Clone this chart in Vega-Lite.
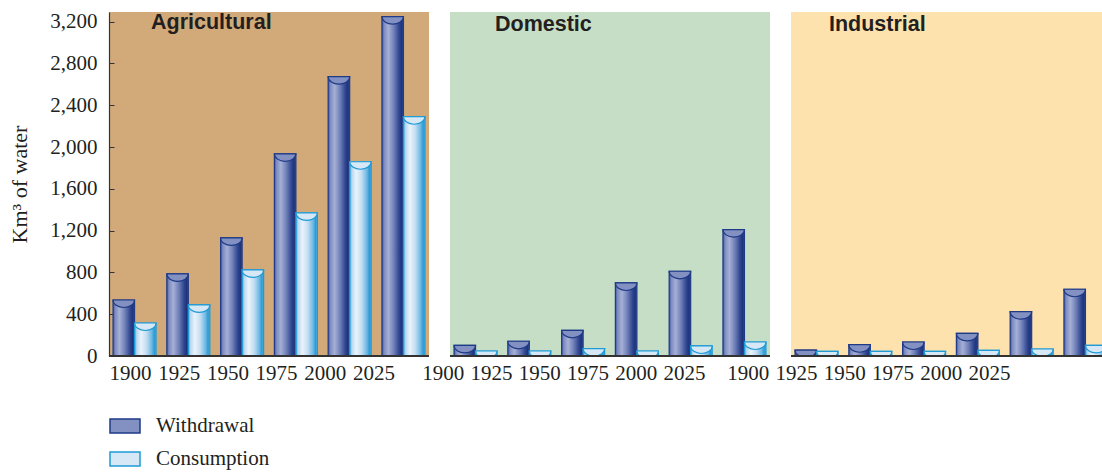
{
  "$schema": "https://vega.github.io/schema/vega-lite/v6.json",
  "background": "white",
  "padding": {"left": 8, "top": 10, "right": 0, "bottom": 0},
  "spacing": 21,
  "bounds": "flush",
  "datasets": {
    "water": [
      {"panel": "Agricultural", "year": "1900", "series": "Withdrawal", "value": 536},
      {"panel": "Agricultural", "year": "1925", "series": "Withdrawal", "value": 786},
      {"panel": "Agricultural", "year": "1950", "series": "Withdrawal", "value": 1130},
      {"panel": "Agricultural", "year": "1975", "series": "Withdrawal", "value": 1935},
      {"panel": "Agricultural", "year": "2000", "series": "Withdrawal", "value": 2673},
      {"panel": "Agricultural", "year": "2025", "series": "Withdrawal", "value": 3248},
      {"panel": "Agricultural", "year": "1900", "series": "Consumption", "value": 316},
      {"panel": "Agricultural", "year": "1925", "series": "Consumption", "value": 489},
      {"panel": "Agricultural", "year": "1950", "series": "Consumption", "value": 824},
      {"panel": "Agricultural", "year": "1975", "series": "Consumption", "value": 1370},
      {"panel": "Agricultural", "year": "2000", "series": "Consumption", "value": 1859},
      {"panel": "Agricultural", "year": "2025", "series": "Consumption", "value": 2290},
      {"panel": "Domestic", "year": "1900", "series": "Withdrawal", "value": 102},
      {"panel": "Domestic", "year": "1925", "series": "Withdrawal", "value": 141},
      {"panel": "Domestic", "year": "1950", "series": "Withdrawal", "value": 246},
      {"panel": "Domestic", "year": "1975", "series": "Withdrawal", "value": 699},
      {"panel": "Domestic", "year": "2000", "series": "Withdrawal", "value": 811},
      {"panel": "Domestic", "year": "2025", "series": "Withdrawal", "value": 1210},
      {"panel": "Domestic", "year": "1900", "series": "Consumption", "value": 48},
      {"panel": "Domestic", "year": "1925", "series": "Consumption", "value": 48},
      {"panel": "Domestic", "year": "1950", "series": "Consumption", "value": 70},
      {"panel": "Domestic", "year": "1975", "series": "Consumption", "value": 48},
      {"panel": "Domestic", "year": "2000", "series": "Consumption", "value": 96},
      {"panel": "Domestic", "year": "2025", "series": "Consumption", "value": 134},
      {"panel": "Industrial", "year": "1900", "series": "Withdrawal", "value": 57},
      {"panel": "Industrial", "year": "1925", "series": "Withdrawal", "value": 108},
      {"panel": "Industrial", "year": "1950", "series": "Withdrawal", "value": 134},
      {"panel": "Industrial", "year": "1975", "series": "Withdrawal", "value": 217},
      {"panel": "Industrial", "year": "2000", "series": "Withdrawal", "value": 424},
      {"panel": "Industrial", "year": "2025", "series": "Withdrawal", "value": 639},
      {"panel": "Industrial", "year": "1900", "series": "Consumption", "value": 45},
      {"panel": "Industrial", "year": "1925", "series": "Consumption", "value": 45},
      {"panel": "Industrial", "year": "1950", "series": "Consumption", "value": 45},
      {"panel": "Industrial", "year": "1975", "series": "Consumption", "value": 54},
      {"panel": "Industrial", "year": "2000", "series": "Consumption", "value": 67},
      {"panel": "Industrial", "year": "2025", "series": "Consumption", "value": 102}
    ]
  },
  "data": {"name": "water"},
  "hconcat": [
    {
      "width": 320,
      "height": 344,
      "view": {"fill": "#d2aa7a", "stroke": null},
      "title": {"text": "Agricultural", "anchor": "start", "frame": "group", "dx": 42, "dy": 27, "font": "Liberation Sans", "fontSize": 21.5, "fontWeight": "bold", "color": "#231f20"},
      "transform": [{"filter": "datum.panel === 'Agricultural'"}],
      "encoding": {
        "y": {"field": "value", "type": "quantitative", "scale": {"domain": [0, 3292], "nice": false},
          "axis": {"title": "Km³ of water", "titleFont": "Liberation Serif", "titleFontSize": 22, "titleFontWeight": "normal", "titleColor": "#231f20", "titlePadding": 18,
            "values": [0, 400, 800, 1200, 1600, 2000, 2400, 2800, 3200], "format": ",d", "labelFont": "Liberation Serif", "labelFontSize": 21, "labelColor": "#231f20",
            "tickSize": -5, "tickColor": "#333333", "labelPadding": 17, "domainColor": "#333333", "domainWidth": 1.2, "grid": false}}
      },
      "layer": [
        {
          "encoding": {
            "x": {"field": "year", "type": "ordinal", "sort": ["1900", "1925", "1950", "1975", "2000", "2025"], "scale": {"paddingInner": 0.2, "paddingOuter": 0.075}, "axis": null},
            "xOffset": {"field": "series", "type": "nominal", "scale": {"domain": ["Withdrawal", "Consumption"], "paddingInner": 0, "paddingOuter": 0}}
          },
          "layer": [
            {"transform": [{"filter": "datum.series === 'Withdrawal'"}],
              "mark": {"type": "bar", "clip": true, "stroke": "#1f3a86", "strokeWidth": 1.2,
                "fill": {"gradient": "linear", "x1": 0, "y1": 0, "x2": 1, "y2": 0, "stops": [
                  {"offset": 0, "color": "#3c56a0"}, {"offset": 0.1, "color": "#7d8bc0"}, {"offset": 0.3, "color": "#a6b0d6"},
                  {"offset": 0.55, "color": "#7080b8"}, {"offset": 0.8, "color": "#2f4590"}, {"offset": 0.92, "color": "#1e3479"}, {"offset": 1, "color": "#34509f"}]}}},
            {"transform": [{"filter": "datum.series === 'Consumption'"}],
              "mark": {"type": "bar", "clip": true, "stroke": "#1e9ad6", "strokeWidth": 1.2,
                "fill": {"gradient": "linear", "x1": 0, "y1": 0, "x2": 1, "y2": 0, "stops": [
                  {"offset": 0, "color": "#3aa5d8"}, {"offset": 0.1, "color": "#b8d8ef"}, {"offset": 0.3, "color": "#eaf3fb"},
                  {"offset": 0.55, "color": "#c4def2"}, {"offset": 0.8, "color": "#6cb8e3"}, {"offset": 0.92, "color": "#2a9ad4"}, {"offset": 1, "color": "#62b6e2"}]}}},
            {"mark": {"type": "point", "shape": "M-1,0A1,0.7 0 0 0 1,0Z", "size": 462, "filled": true, "opacity": 1, "strokeWidth": 1.2, "clip": true},
              "encoding": {
                "color": {"field": "series", "type": "nominal", "scale": {"domain": ["Withdrawal", "Consumption"], "range": ["#8391c2", "#d6e8f6"]},
                  "legend": {"orient": "none", "legendX": 0, "legendY": 398, "direction": "vertical", "title": null,
                    "symbolType": "M-1,-0.47H1V0.47H-1Z", "symbolSize": 900, "symbolStrokeWidth": 1.5,
                    "labelFont": "Liberation Serif", "labelFontSize": 21, "labelColor": "#231f20", "labelOffset": 15, "rowPadding": 6,
                    "encode": {"symbols": {"update": {
                      "fill": [{"test": "datum.value === 'Withdrawal'", "value": {"gradient": "linear", "x1": 0, "y1": 0, "x2": 0, "y2": 1, "stops": [{"offset": 0, "color": "#2f4590"}, {"offset": 0.35, "color": "#a6b0d6"}, {"offset": 1, "color": "#1e3479"}]}},
                               {"value": {"gradient": "linear", "x1": 0, "y1": 0, "x2": 0, "y2": 1, "stops": [{"offset": 0, "color": "#6cb8e3"}, {"offset": 0.35, "color": "#eaf3fb"}, {"offset": 1, "color": "#2a9ad4"}]}}],
                      "stroke": [{"test": "datum.value === 'Withdrawal'", "value": "#1f3a86"}, {"value": "#1e9ad6"}]}}}}},
                "stroke": {"field": "series", "type": "nominal", "scale": {"domain": ["Withdrawal", "Consumption"], "range": ["#1f3a86", "#1e9ad6"]}, "legend": null}
              }}
          ]
        },
        {
          "mark": {"type": "point", "opacity": 0},
          "encoding": {
            "x": {"field": "year", "type": "ordinal", "sort": ["1900", "1925", "1950", "1975", "2000", "2025"], "scale": {"type": "point", "range": [21, 264.5], "padding": 0},
              "axis": {"orient": "bottom", "title": null, "domain": false, "ticks": false, "labelFont": "Liberation Serif", "labelFontSize": 21, "labelColor": "#231f20", "labelPadding": 6, "labelAngle": 0, "labelOverlap": false, "labelBound": false}}
          }
        },
        {
          "mark": {"type": "rule", "color": "#333333", "strokeWidth": 1.2},
          "encoding": {
            "y": {"datum": 0, "type": "quantitative", "scale": {"domain": [0, 3292], "nice": false},
              "axis": {"title": "Km³ of water", "titleFont": "Liberation Serif", "titleFontSize": 22, "titleFontWeight": "normal", "titleColor": "#231f20", "titlePadding": 18,
                "values": [0, 400, 800, 1200, 1600, 2000, 2400, 2800, 3200], "format": ",d", "labelFont": "Liberation Serif", "labelFontSize": 21, "labelColor": "#231f20",
                "tickSize": -5, "tickColor": "#333333", "labelPadding": 17, "domainColor": "#333333", "domainWidth": 1.2, "grid": false}}
          }
        }
      ],
      "resolve": {"scale": {"x": "independent"}, "axis": {"x": "independent"}}
    },
    {
      "width": 320,
      "height": 344,
      "view": {"fill": "#c6dec5", "stroke": null},
      "title": {"text": "Domestic", "anchor": "start", "frame": "group", "dx": 45, "dy": 27, "font": "Liberation Sans", "fontSize": 21.5, "fontWeight": "bold", "color": "#231f20"},
      "transform": [{"filter": "datum.panel === 'Domestic'"}],
      "encoding": {
        "y": {"field": "value", "type": "quantitative", "scale": {"domain": [0, 3292], "nice": false}, "axis": null}
      },
      "layer": [
        {
          "encoding": {
            "x": {"field": "year", "type": "ordinal", "sort": ["1900", "1925", "1950", "1975", "2000", "2025"], "scale": {"paddingInner": 0.2, "paddingOuter": 0.075}, "axis": null},
            "xOffset": {"field": "series", "type": "nominal", "scale": {"domain": ["Withdrawal", "Consumption"], "paddingInner": 0, "paddingOuter": 0}}
          },
          "layer": [
            {"transform": [{"filter": "datum.series === 'Withdrawal'"}],
              "mark": {"type": "bar", "clip": true, "stroke": "#1f3a86", "strokeWidth": 1.2,
                "fill": {"gradient": "linear", "x1": 0, "y1": 0, "x2": 1, "y2": 0, "stops": [
                  {"offset": 0, "color": "#3c56a0"}, {"offset": 0.1, "color": "#7d8bc0"}, {"offset": 0.3, "color": "#a6b0d6"},
                  {"offset": 0.55, "color": "#7080b8"}, {"offset": 0.8, "color": "#2f4590"}, {"offset": 0.92, "color": "#1e3479"}, {"offset": 1, "color": "#34509f"}]}}},
            {"transform": [{"filter": "datum.series === 'Consumption'"}],
              "mark": {"type": "bar", "clip": true, "stroke": "#1e9ad6", "strokeWidth": 1.2,
                "fill": {"gradient": "linear", "x1": 0, "y1": 0, "x2": 1, "y2": 0, "stops": [
                  {"offset": 0, "color": "#3aa5d8"}, {"offset": 0.1, "color": "#b8d8ef"}, {"offset": 0.3, "color": "#eaf3fb"},
                  {"offset": 0.55, "color": "#c4def2"}, {"offset": 0.8, "color": "#6cb8e3"}, {"offset": 0.92, "color": "#2a9ad4"}, {"offset": 1, "color": "#62b6e2"}]}}},
            {"mark": {"type": "point", "shape": "M-1,0A1,0.7 0 0 0 1,0Z", "size": 462, "filled": true, "opacity": 1, "strokeWidth": 1.2, "clip": true},
              "encoding": {
                "color": {"field": "series", "type": "nominal", "scale": {"domain": ["Withdrawal", "Consumption"], "range": ["#8391c2", "#d6e8f6"]}},
                "stroke": {"field": "series", "type": "nominal", "scale": {"domain": ["Withdrawal", "Consumption"], "range": ["#1f3a86", "#1e9ad6"]}, "legend": null}
              }}
          ]
        },
        {
          "mark": {"type": "point", "opacity": 0},
          "encoding": {
            "x": {"field": "year", "type": "ordinal", "sort": ["1900", "1925", "1950", "1975", "2000", "2025"], "scale": {"type": "point", "range": [-7.3, 234], "padding": 0},
              "axis": {"orient": "bottom", "title": null, "domain": false, "ticks": false, "labelFont": "Liberation Serif", "labelFontSize": 21, "labelColor": "#231f20", "labelPadding": 6, "labelAngle": 0, "labelOverlap": false, "labelBound": false}}
          }
        },
        {
          "mark": {"type": "rule", "color": "#333333", "strokeWidth": 1.2},
          "encoding": {"y": {"datum": 0, "type": "quantitative", "scale": {"domain": [0, 3292], "nice": false}, "axis": null}}
        }
      ],
      "resolve": {"scale": {"x": "independent"}, "axis": {"x": "independent"}}
    },
    {
      "width": 312,
      "height": 344,
      "view": {"fill": "#fde2ad", "stroke": null},
      "title": {"text": "Industrial", "anchor": "start", "frame": "group", "dx": 38, "dy": 27, "font": "Liberation Sans", "fontSize": 21.5, "fontWeight": "bold", "color": "#231f20"},
      "transform": [{"filter": "datum.panel === 'Industrial'"}],
      "encoding": {
        "y": {"field": "value", "type": "quantitative", "scale": {"domain": [0, 3292], "nice": false}, "axis": null}
      },
      "layer": [
        {
          "encoding": {
            "x": {"field": "year", "type": "ordinal", "sort": ["1900", "1925", "1950", "1975", "2000", "2025"], "scale": {"paddingInner": 0.2, "paddingOuter": 0.075, "range": [0, 320]}, "axis": null},
            "xOffset": {"field": "series", "type": "nominal", "scale": {"domain": ["Withdrawal", "Consumption"], "paddingInner": 0, "paddingOuter": 0}}
          },
          "layer": [
            {"transform": [{"filter": "datum.series === 'Withdrawal'"}],
              "mark": {"type": "bar", "clip": true, "stroke": "#1f3a86", "strokeWidth": 1.2,
                "fill": {"gradient": "linear", "x1": 0, "y1": 0, "x2": 1, "y2": 0, "stops": [
                  {"offset": 0, "color": "#3c56a0"}, {"offset": 0.1, "color": "#7d8bc0"}, {"offset": 0.3, "color": "#a6b0d6"},
                  {"offset": 0.55, "color": "#7080b8"}, {"offset": 0.8, "color": "#2f4590"}, {"offset": 0.92, "color": "#1e3479"}, {"offset": 1, "color": "#34509f"}]}}},
            {"transform": [{"filter": "datum.series === 'Consumption'"}],
              "mark": {"type": "bar", "clip": true, "stroke": "#1e9ad6", "strokeWidth": 1.2,
                "fill": {"gradient": "linear", "x1": 0, "y1": 0, "x2": 1, "y2": 0, "stops": [
                  {"offset": 0, "color": "#3aa5d8"}, {"offset": 0.1, "color": "#b8d8ef"}, {"offset": 0.3, "color": "#eaf3fb"},
                  {"offset": 0.55, "color": "#c4def2"}, {"offset": 0.8, "color": "#6cb8e3"}, {"offset": 0.92, "color": "#2a9ad4"}, {"offset": 1, "color": "#62b6e2"}]}}},
            {"mark": {"type": "point", "shape": "M-1,0A1,0.7 0 0 0 1,0Z", "size": 462, "filled": true, "opacity": 1, "strokeWidth": 1.2, "clip": true},
              "encoding": {
                "color": {"field": "series", "type": "nominal", "scale": {"domain": ["Withdrawal", "Consumption"], "range": ["#8391c2", "#d6e8f6"]}},
                "stroke": {"field": "series", "type": "nominal", "scale": {"domain": ["Withdrawal", "Consumption"], "range": ["#1f3a86", "#1e9ad6"]}, "legend": null}
              }}
          ]
        },
        {
          "mark": {"type": "point", "opacity": 0},
          "encoding": {
            "x": {"field": "year", "type": "ordinal", "sort": ["1900", "1925", "1950", "1975", "2000", "2025"], "scale": {"type": "point", "range": [-43.3, 198], "padding": 0},
              "axis": {"orient": "bottom", "title": null, "domain": false, "ticks": false, "labelFont": "Liberation Serif", "labelFontSize": 21, "labelColor": "#231f20", "labelPadding": 6, "labelAngle": 0, "labelOverlap": false, "labelBound": false}}
          }
        },
        {
          "mark": {"type": "rule", "color": "#333333", "strokeWidth": 1.2},
          "encoding": {"y": {"datum": 0, "type": "quantitative", "scale": {"domain": [0, 3292], "nice": false}, "axis": null}}
        }
      ],
      "resolve": {"scale": {"x": "independent"}, "axis": {"x": "independent"}}
    }
  ],
  "config": {"view": {"stroke": null}, "axis": {"grid": false}, "font": "Liberation Serif"}
}
